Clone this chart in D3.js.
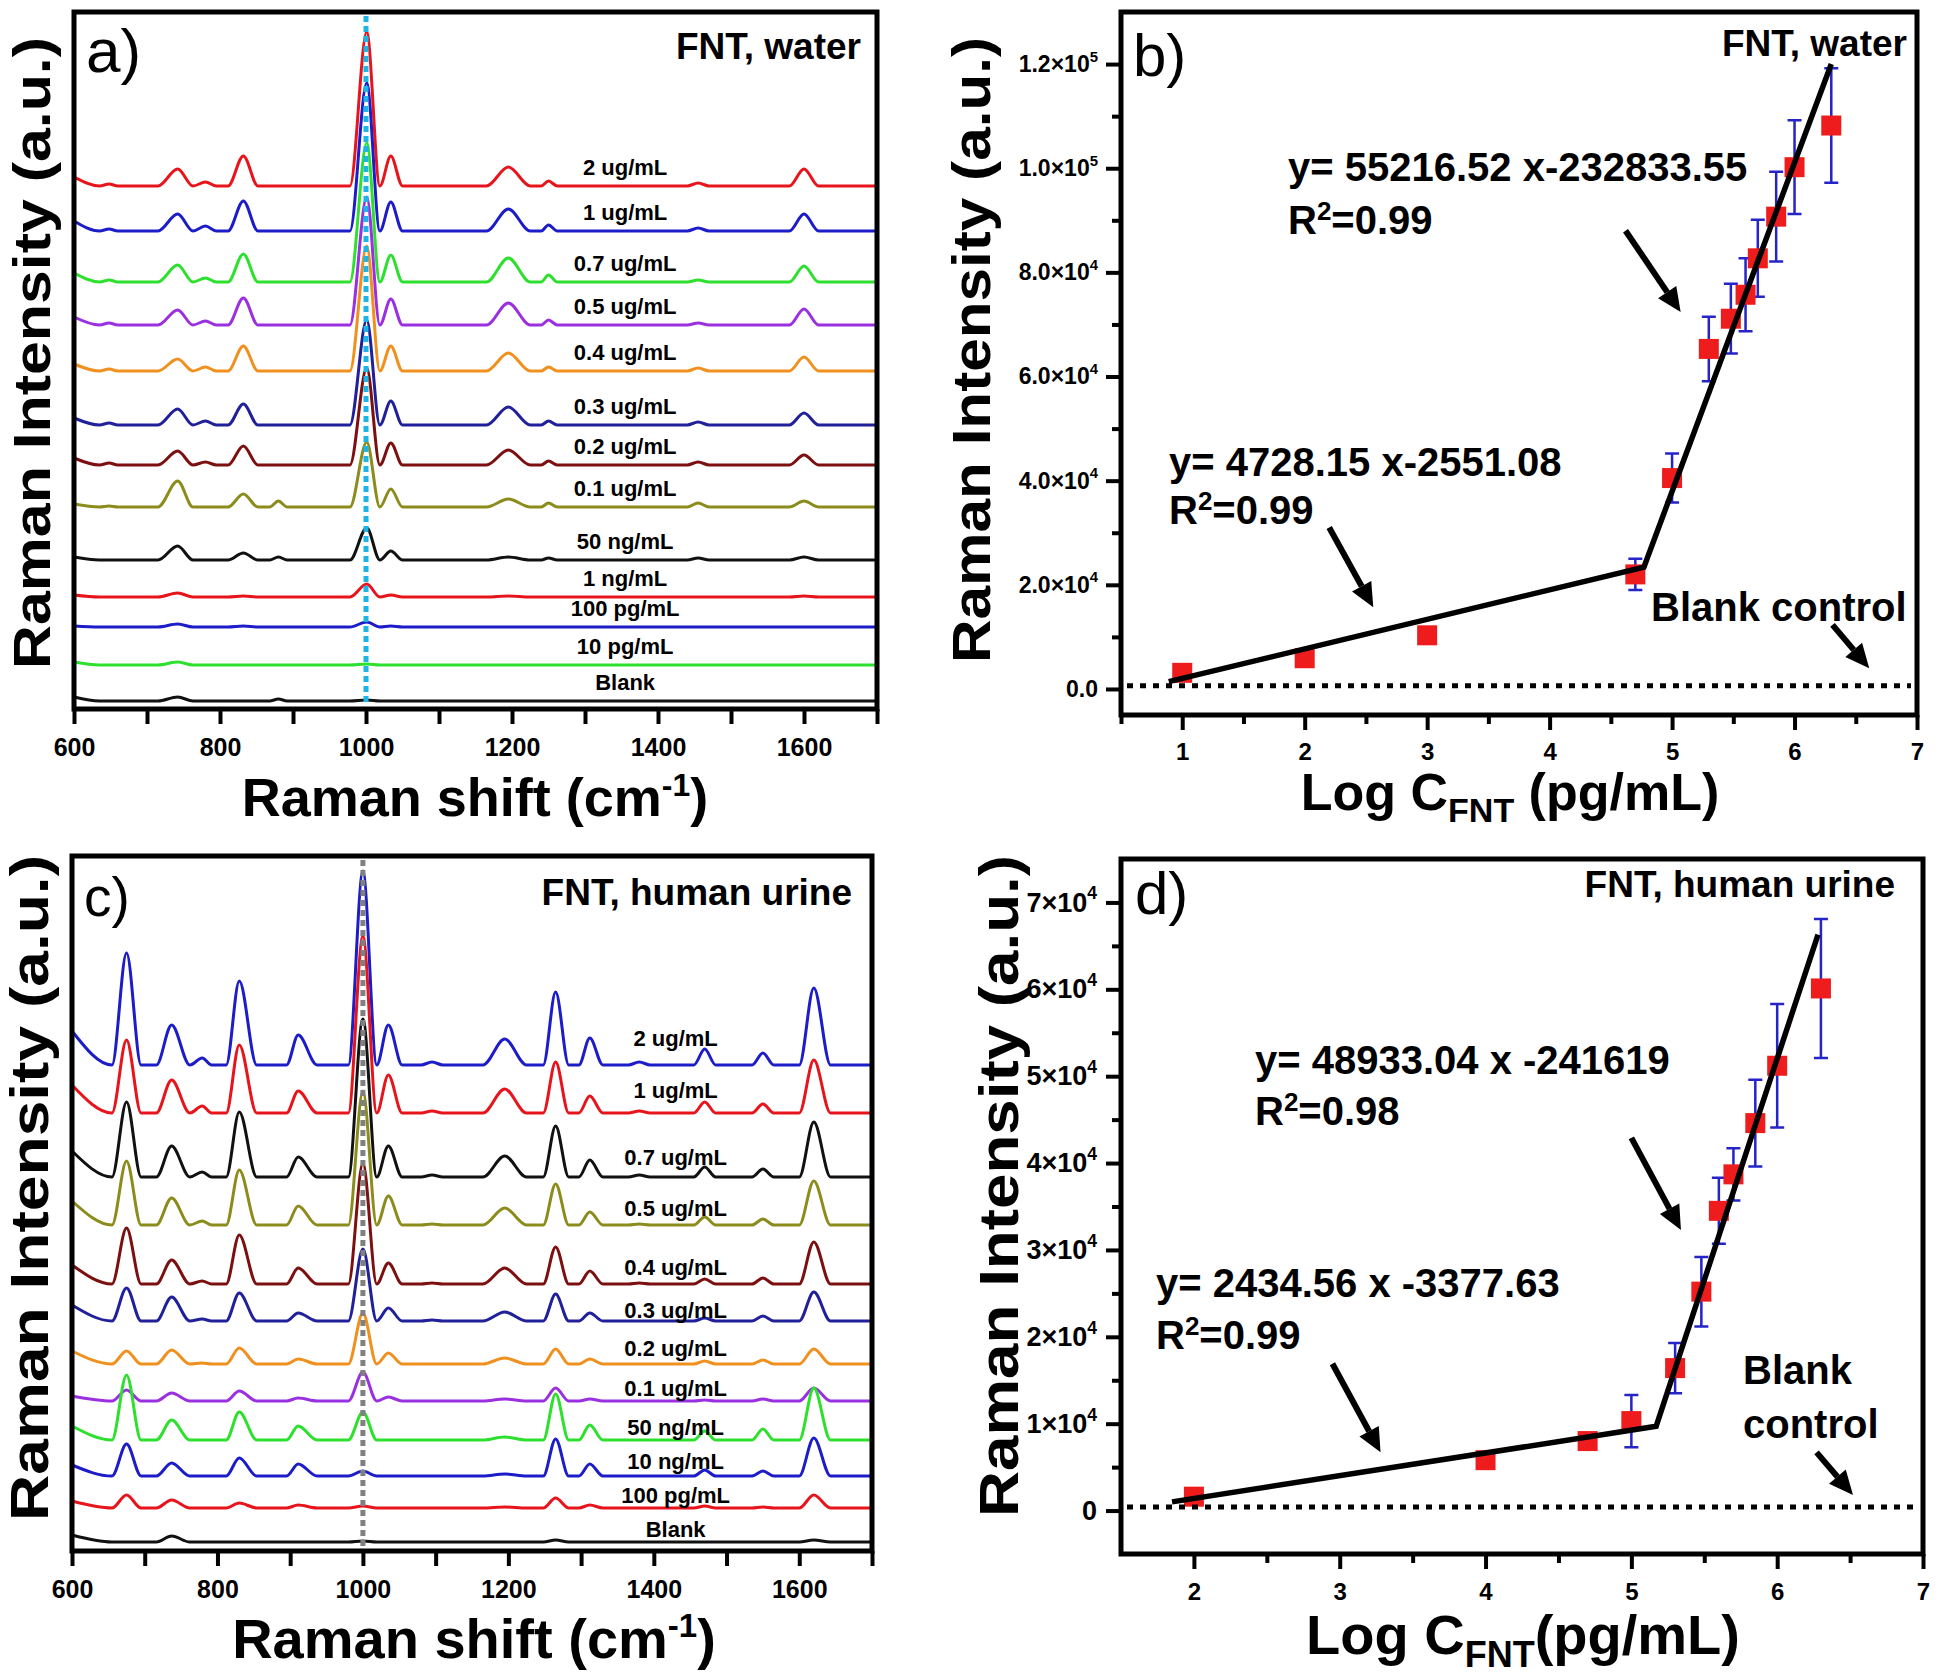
<!DOCTYPE html>
<html lang="en">
<head>
<meta charset="UTF-8">
<title>FNT SERS</title>
<script src="https://cdn.jsdelivr.net/npm/d3@7"></script>
<style>
  body { margin: 0; background: #fff; }
</style>
</head>
<body>
<script>
// ---------- data: Raman spectra ----------
let ramanTicks = [600, 700, 800, 900, 1000, 1100, 1200, 1300, 1400, 1500, 1600, 1700];
let ramanTickLabels = ['600', '', '800', '', '1000', '', '1200', '', '1400', '', '1600', ''];

// a) FNT in water
let waterNames = ['2 ug/mL', '1 ug/mL', '0.7 ug/mL', '0.5 ug/mL', '0.4 ug/mL', '0.3 ug/mL', '0.2 ug/mL',
  '0.1 ug/mL', '50 ng/mL', '1 ng/mL', '100 pg/mL', '10 pg/mL', 'Blank'];
let waterColors = ['#e8141c', '#1c1cc8', '#2ee02e', '#9a30e0', '#f0901e', '#20209a', '#7c1010',
  '#8c8c1c', '#111111', '#e8141c', '#1c1cc8', '#2ee02e', '#111111'];
let waterOffsets = [523, 478, 427, 384, 338, 284, 244, 202, 149, 112, 82, 44, 8];
let waterPeakShifts = [600, 648, 742, 780, 832, 880, 1001, 1034, 1195, 1250, 1455, 1600];
let waterBaseShifts = [635, 660, 715, 763, 795, 811, 852, 868, 892, 978, 1019, 1050, 1165, 1225,
  1240, 1262, 1440, 1470, 1580, 1620, 1700];
let waterPeaks = [
  [9, 2, 17, 4, 30, 0, 154, 30, 19, 5, 3, 17],
  [10, 2, 17, 5, 30, 0, 148, 29, 22, 6, 3, 17],
  [9, 2, 17, 4, 28, 0, 139, 27, 24, 7, 2, 16],
  [8, 2, 15, 4, 27, 0, 128, 26, 22, 5, 2, 16],
  [7, 2, 12, 4, 25, 0, 125, 25, 18, 4, 3, 14],
  [7, 2, 16, 4, 21, 0, 105, 24, 18, 4, 3, 12],
  [7, 2, 14, 3, 19, 0, 97, 22, 15, 4, 3, 10],
  [3, 1, 26, 0, 13, 6, 65, 18, 8, 4, 4, 6],
  [3, 0, 14, 0, 7, 3, 32, 9, 3, 2, 2, 3],
  [2, 0, 4, 0, 1, 0, 13, 2, 1, 0, 0, 1],
  [1, 0, 3, 0, 1, 0, 5, 1, 0, 0, 0, 0],
  [3, 0, 3, 0, 0, 0, 1, 0, 0, 0, 0, 0],
  [4, 0, 4, 0, 0, 2, 1, 0, 0, 0, 0, 0]
];

// c) FNT in human urine
let urineNames = ['2 ug/mL', '1 ug/mL', '0.7 ug/mL', '0.5 ug/mL', '0.4 ug/mL', '0.3 ug/mL', '0.2 ug/mL',
  '0.1 ug/mL', '50 ng/mL', '10 ng/mL', '100 pg/mL', 'Blank'];
let urineColors = ['#1c1cc8', '#e8141c', '#111111', '#8c8c1c', '#7c1010', '#20209a', '#f0901e',
  '#9a30e0', '#2ee02e', '#1c1cc8', '#e8141c', '#111111'];
let urineOffsets = [486, 438, 374, 326, 267, 230, 187, 150, 111, 75, 43, 9];
let urinePeakShifts = [600, 675, 737, 779, 830, 911, 1000, 1035, 1095, 1195, 1265, 1312, 1380, 1470, 1550, 1620];
let urineBaseShifts = [655, 695, 716, 762, 792, 812, 854, 895, 937, 980, 1019, 1054, 1080, 1110, 1165,
  1225, 1248, 1283, 1297, 1330, 1365, 1395, 1455, 1485, 1535, 1565, 1600, 1643, 1700];
let urinePeaks = [
  [34, 112, 40, 7, 84, 30, 194, 40, 3, 26, 73, 27, 3, 16, 12, 77],
  [28, 73, 33, 7, 68, 22, 177, 38, 2, 24, 51, 17, 2, 11, 9, 53],
  [26, 75, 31, 5, 65, 20, 158, 31, 2, 21, 51, 17, 2, 10, 8, 55],
  [24, 64, 27, 4, 55, 19, 134, 29, 1, 17, 41, 13, 1, 8, 6, 44],
  [19, 56, 24, 3, 49, 16, 121, 21, 1, 16, 37, 13, 1, 5, 6, 42],
  [16, 33, 24, 2, 28, 8, 72, 13, 1, 9, 27, 8, 0, 3, 5, 29],
  [13, 13, 14, 1, 16, 5, 51, 11, 0, 6, 15, 5, 0, 3, 4, 15],
  [5, 11, 8, 0, 10, 3, 29, 4, 0, 2, 13, 2, 0, 1, 2, 13],
  [14, 65, 20, 0, 28, 14, 28, 0, 0, 3, 46, 15, 0, 9, 11, 52],
  [11, 32, 13, 0, 18, 12, 5, 0, 0, 2, 37, 12, 0, 6, 5, 38],
  [7, 13, 8, 0, 5, 3, 2, 0, 0, 1, 10, 3, 0, 2, 1, 13],
  [7, 0, 6, 0, 0, 0, 1, 0, 0, 0, 2, 0, 0, 0, 0, 2]
];

// ---------- data: calibration ----------
let waterLogC = [1, 2, 3, 4.7, 5, 5.3, 5.48, 5.6, 5.7, 5.85, 6, 6.3];
let waterInt = [3100, 5900, 10300, 22000, 40500, 65300, 71100, 75700, 82700, 90700, 100200, 108200];
let waterErr = [900, 1000, 1400, 3000, 4700, 6200, 6700, 7000, 7400, 8600, 9000, 11000];
let waterFitX = [0.89, 4.77, 6.3];
let waterFitY = [1400, 23400, 120000];
let waterBlank = 600;
let waterXTicks = [1, 2, 3, 4, 5, 6, 7];
let waterYTicks = [0, 20000, 40000, 60000, 80000, 100000, 120000];
let waterYBase = ['0.0', '2.0×10', '4.0×10', '6.0×10', '8.0×10', '1.0×10', '1.2×10'];
let waterYExp = ['', '4', '4', '4', '4', '5', '5'];

let urineLogC = [2, 4, 4.7, 5, 5.3, 5.48, 5.6, 5.7, 5.85, 6, 6.3];
let urineInt = [1600, 5800, 8000, 10300, 16400, 25200, 34500, 38700, 44600, 51200, 60100];
let urineErr = [500, 500, 800, 3000, 2900, 4000, 3800, 3000, 5000, 7100, 8000];
let urineFitX = [1.85, 5.17, 6.28];
let urineFitY = [1000, 9700, 66300];
let urineBlank = 400;
let urineXTicks = [2, 3, 4, 5, 6, 7];
let urineYTicks = [0, 10000, 20000, 30000, 40000, 50000, 60000, 70000];
let urineYBase = ['0', '1×10', '2×10', '3×10', '4×10', '5×10', '6×10', '7×10'];
let urineYExp = ['', '4', '4', '4', '4', '4', '4', '4'];

// ---------- layout ----------
let width = 1942;
let height = 1678;
let font = '"Liberation Sans", Arial, sans-serif';

let boxA = {left: 74, top: 12, right: 877, bottom: 709};
let boxB = {left: 1121, top: 12, right: 1917, bottom: 715};
let boxC = {left: 72, top: 856, right: 872, bottom: 1551};
let boxD = {left: 1121, top: 859, right: 1923, bottom: 1554};

let svg = d3.select('body').append('svg')
  .attr('width', width)
  .attr('height', height)
  .style('font-family', font);

svg.append('rect').attr('width', width).attr('height', height).attr('fill', '#fff');

function styleAxis(g, size) {
  g.attr('font-family', null).attr('font-size', null);
  g.select('.domain').remove();
  g.selectAll('.tick line').attr('stroke', '#000').attr('stroke-width', 4);
  if (size) {
    g.selectAll('.tick text')
      .attr('font-size', size)
      .attr('font-weight', 'bold')
      .attr('fill', '#000');
  } else {
    g.selectAll('.tick text').remove();
  }
}

function frame(p) {
  svg.append('rect')
    .attr('x', p.left).attr('y', p.top)
    .attr('width', p.right - p.left).attr('height', p.bottom - p.top)
    .attr('fill', 'none').attr('stroke', '#000').attr('stroke-width', 5);
}

// text with sub/superscript parts; shift > 0 moves up
function richText(x, y, parts, size, opts) {
  opts = opts || {};
  let t = svg.append('text')
    .attr('x', x).attr('y', y)
    .attr('font-size', size)
    .attr('font-weight', opts.weight || 'bold')
    .attr('text-anchor', opts.anchor || 'start')
    .attr('fill', '#000');
  let prev = 0;
  parts.forEach(function (p) {
    let s = p.shift || 0;
    t.append('tspan').attr('dy', prev - s).attr('font-size', p.size || size).text(p.text);
    prev = s;
  });
  return t;
}

function yTitle(x, y, len, size) {
  svg.append('text')
    .attr('transform', 'translate(' + x + ',' + y + ') rotate(-90)')
    .attr('text-anchor', 'middle')
    .attr('font-size', size)
    .attr('font-weight', 'bold')
    .attr('textLength', len)
    .attr('lengthAdjust', 'spacingAndGlyphs')
    .text('Raman Intensity (a.u.)');
}

function arrow(x1, y1, x2, y2) {
  let a = Math.atan2(y2 - y1, x2 - x1);
  let L = 24, w = 11;
  let bx = x2 - L * Math.cos(a), by = y2 - L * Math.sin(a);
  svg.append('line')
    .attr('x1', x1).attr('y1', y1).attr('x2', bx).attr('y2', by)
    .attr('stroke', '#000').attr('stroke-width', 6);
  svg.append('path')
    .attr('d', 'M' + x2 + ',' + y2 +
      'L' + (bx + w * Math.sin(a)) + ',' + (by - w * Math.cos(a)) +
      'L' + (bx - w * Math.sin(a)) + ',' + (by + w * Math.cos(a)) + 'Z')
    .attr('fill', '#000');
}

// ---------- spectra panels ----------
function spectraPanel(p, names, colors, offsets, peakShifts, baseShifts, peaks, labelShift, labelLift, markColor) {
  let x = d3.scaleLinear().domain([600, 1700]).range([p.left, p.right]);
  let y = d3.scaleLinear().domain([0, p.bottom - p.top]).range([p.bottom, p.top]);

  let line = d3.line()
    .x(function (d) { return x(d[0]); })
    .y(function (d) { return y(d[1]); })
    .curve(d3.curveMonotoneX);

  let series = peaks.map(function (h, i) {
    let pts = baseShifts.map(function (s) { return [s, offsets[i]]; })
      .concat(peakShifts.map(function (s, j) { return [s, offsets[i] + h[j]]; }));
    pts.sort(function (a, b) { return a[0] - b[0]; });
    return pts;
  });

  svg.append('g').selectAll('path')
    .data(series)
    .enter()
    .append('path')
    .attr('d', line)
    .attr('fill', 'none')
    .attr('stroke', function (d, i) { return colors[i]; })
    .attr('stroke-width', 3);

  svg.append('g').selectAll('text')
    .data(names)
    .enter()
    .append('text')
    .attr('x', x(labelShift))
    .attr('y', function (d, i) { return y(offsets[i] + labelLift[i]) + 8; })
    .attr('text-anchor', 'middle')
    .attr('font-size', 22)
    .attr('font-weight', 'bold')
    .text(function (d) { return d; });

  svg.append('line')
    .attr('x1', x(1000)).attr('x2', x(1000))
    .attr('y1', p.top + 4).attr('y2', p.bottom - 3)
    .attr('stroke', markColor).attr('stroke-width', 5)
    .attr('stroke-dasharray', '6,4');

  svg.append('g')
    .attr('transform', 'translate(0,' + p.bottom + ')')
    .call(d3.axisBottom(x).tickValues(ramanTicks).tickSize(15).tickPadding(14)
      .tickFormat(function (d) { return ramanTickLabels[ramanTicks.indexOf(d)]; }))
    .call(styleAxis, 25);

  frame(p);
}

let liftA = waterNames.map(function () { return 19; });
let liftC = [27, 23, 20, 17, 17, 11, 16, 13, 13, 15, 13, 13];

spectraPanel(boxA, waterNames, waterColors, waterOffsets, waterPeakShifts, waterBaseShifts,
  waterPeaks, 1355, liftA, '#1eb4e6');
spectraPanel(boxC, urineNames, urineColors, urineOffsets, urinePeakShifts, urineBaseShifts,
  urinePeaks, 1430, liftC, '#808080');

// ---------- calibration panels ----------
function calPanel(c) {
  let p = c.box;
  let x = d3.scaleLinear().domain(c.xDomain).range([p.left, p.right]);
  let y = d3.scaleLinear().domain(c.yDomain).range([p.bottom, p.top]);

  svg.append('g').attr('transform', 'translate(0,' + p.bottom + ')')
    .call(d3.axisBottom(x).tickValues(c.xMinor).tickSize(9))
    .call(styleAxis, 0);
  svg.append('g').attr('transform', 'translate(0,' + p.bottom + ')')
    .call(d3.axisBottom(x).tickValues(c.xTicks).tickSize(15).tickPadding(c.xPad).tickFormat(d3.format('d')))
    .call(styleAxis, 24);
  svg.append('g').attr('transform', 'translate(' + p.left + ',0)')
    .call(d3.axisLeft(y).tickValues(c.yMinor).tickSize(9))
    .call(styleAxis, 0);
  let ya = svg.append('g').attr('transform', 'translate(' + p.left + ',0)')
    .call(d3.axisLeft(y).tickValues(c.yTicks).tickSize(15).tickPadding(c.yPad).tickFormat(''))
    .call(styleAxis, c.yFont);
  ya.selectAll('.tick text').each(function (d) {
    let i = c.yTicks.indexOf(d);
    let t = d3.select(this);
    t.text(null);
    t.append('tspan').text(c.yBase[i]);
    if (c.yExp[i]) {
      t.append('tspan').attr('dy', -c.yFont * 0.45).attr('font-size', c.yFont * 0.65).text(c.yExp[i]);
    }
  });

  let pts = c.xs.map(function (v, i) { return {x: v, y: c.ys[i], e: c.errs[i]}; });

  svg.append('g').selectAll('path')
    .data(pts)
    .enter()
    .append('path')
    .attr('d', function (d) {
      let cx = x(d.x), t = y(d.y + d.e), b = y(d.y - d.e);
      return 'M' + (cx - 7) + ',' + t + 'H' + (cx + 7) + 'M' + cx + ',' + t + 'V' + b +
        'M' + (cx - 7) + ',' + b + 'H' + (cx + 7);
    })
    .attr('fill', 'none')
    .attr('stroke', '#2424c8')
    .attr('stroke-width', 2.5);

  svg.append('g').selectAll('rect')
    .data(pts)
    .enter()
    .append('rect')
    .attr('x', function (d) { return x(d.x) - 10; })
    .attr('y', function (d) { return y(d.y) - 10; })
    .attr('width', 20)
    .attr('height', 20)
    .attr('fill', '#ee1c1c');

  svg.append('line')
    .attr('x1', p.left + 6).attr('x2', p.right - 6)
    .attr('y1', y(c.blank)).attr('y2', y(c.blank))
    .attr('stroke', '#000').attr('stroke-width', 5)
    .attr('stroke-dasharray', '6,7');

  let fit = c.fitX.map(function (v, i) { return [v, c.fitY[i]]; });
  svg.append('path')
    .datum(fit)
    .attr('d', d3.line().x(function (d) { return x(d[0]); }).y(function (d) { return y(d[1]); }))
    .attr('fill', 'none')
    .attr('stroke', '#000')
    .attr('stroke-width', 5.5);

  c.arrows.forEach(function (a) {
    arrow(x(a[0]), y(a[1]), x(a[2]), y(a[3]));
  });

  frame(p);
}

calPanel({
  box: boxB, xDomain: [0.5, 7], yDomain: [-5000, 130000],
  xTicks: waterXTicks, xMinor: d3.range(0.5, 7, 1), xPad: 13,
  yTicks: waterYTicks, yMinor: d3.range(10000, 130000, 20000), yPad: 8, yFont: 23,
  yBase: waterYBase, yExp: waterYExp,
  xs: waterLogC, ys: waterInt, errs: waterErr,
  fitX: waterFitX, fitY: waterFitY, blank: waterBlank,
  arrows: [[4.62, 88000, 5.07, 72400], [2.2, 31000, 2.56, 15700], [6.31, 12300, 6.61, 4000]]
});

calPanel({
  box: boxD, xDomain: [1.5, 7], yDomain: [-5000, 75000],
  xTicks: urineXTicks, xMinor: d3.range(2.5, 7, 1), xPad: 14,
  yTicks: urineYTicks, yMinor: d3.range(5000, 75000, 10000), yPad: 9, yFont: 27,
  yBase: urineYBase, yExp: urineYExp,
  xs: urineLogC, ys: urineInt, errs: urineErr,
  fitX: urineFitX, fitY: urineFitY, blank: urineBlank,
  arrows: [[5.0, 42900, 5.34, 32300], [2.95, 16900, 3.28, 6700], [6.27, 6700, 6.52, 1800]]
});

// ---------- titles and annotations ----------
yTitle(50, 353, 632, 52);
yTitle(990, 350, 626, 54);
yTitle(48, 1188, 666, 53);
yTitle(1018, 1186, 662, 55);

richText(475, 816, [{text: 'Raman shift (cm'}, {text: '-1', size: 32, shift: 20}, {text: ')'}], 54, {anchor: 'middle'});
richText(474, 1658, [{text: 'Raman shift (cm'}, {text: '-1', size: 33, shift: 21}, {text: ')'}], 56, {anchor: 'middle'});
richText(1510, 810, [{text: 'Log C'}, {text: 'FNT', size: 34, shift: -12}, {text: ' (pg/mL)'}], 52, {anchor: 'middle'});
richText(1523, 1654, [{text: 'Log C'}, {text: 'FNT', size: 36, shift: -13}, {text: '(pg/mL)'}], 56, {anchor: 'middle'});

richText(86, 72, [{text: 'a)'}], 62, {weight: 'normal'});
richText(1133, 76, [{text: 'b)'}], 60, {weight: 'normal'});
richText(84, 916, [{text: 'c)'}], 55, {weight: 'normal'});
richText(1135, 914, [{text: 'd)'}], 60, {weight: 'normal'});

richText(861, 59, [{text: 'FNT, water'}], 37, {anchor: 'end'});
richText(1907, 56, [{text: 'FNT, water'}], 37, {anchor: 'end'});
richText(852, 905, [{text: 'FNT, human urine'}], 37, {anchor: 'end'});
richText(1895, 897, [{text: 'FNT, human urine'}], 37, {anchor: 'end'});

richText(1288, 181, [{text: 'y= 55216.52 x-232833.55'}], 40);
richText(1288, 234, [{text: 'R'}, {text: '2', size: 26, shift: 14}, {text: '=0.99'}], 40);
richText(1169, 476, [{text: 'y= 4728.15 x-2551.08'}], 40);
richText(1169, 524, [{text: 'R'}, {text: '2', size: 26, shift: 14}, {text: '=0.99'}], 40);
richText(1651, 621, [{text: 'Blank control'}], 40);

richText(1255, 1074, [{text: 'y= 48933.04 x -241619'}], 40);
richText(1255, 1125, [{text: 'R'}, {text: '2', size: 26, shift: 14}, {text: '=0.98'}], 40);
richText(1156, 1297, [{text: 'y= 2434.56 x -3377.63'}], 40);
richText(1156, 1349, [{text: 'R'}, {text: '2', size: 26, shift: 14}, {text: '=0.99'}], 40);
richText(1743, 1384, [{text: 'Blank'}], 40);
richText(1743, 1438, [{text: 'control'}], 40);
</script>
</body>
</html>
